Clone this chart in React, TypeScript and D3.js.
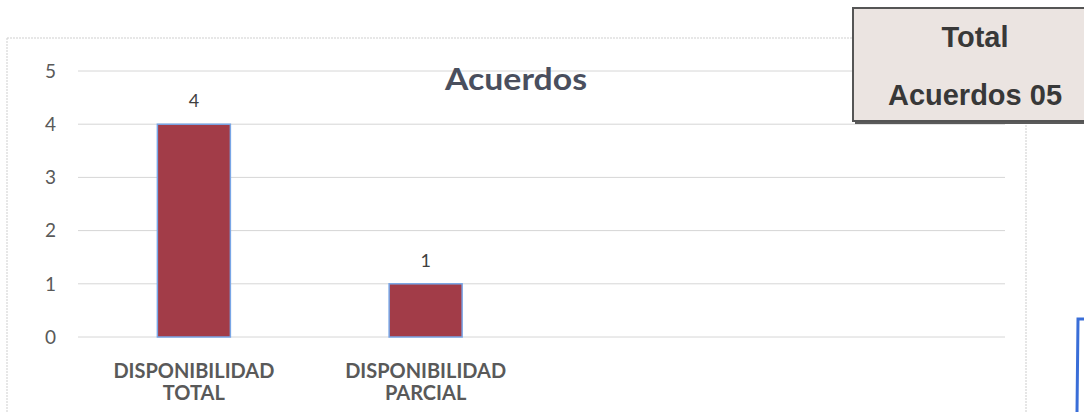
import React from "react";
import * as d3 from "d3";

const categories = ["DISPONIBILIDAD|TOTAL", "DISPONIBILIDAD|PARCIAL", "", " "];
const values: (number | null)[] = [4, 1, null, null];
const yTicks = [0, 1, 2, 3, 4, 5];
const chartTitle = "Acuerdos";
const boxLines = ["Total", "Acuerdos 05"];

const W = 1084;
const H = 412;

export default function App() {
  const x = d3.scaleBand<string>().domain(categories).range([78, 1005]);
  const y = d3.scaleLinear().domain([0, 5]).range([337, 71]);
  const barW = x.bandwidth() * 0.315;
  const font = "Lato, 'Open Sans', sans-serif";
  const mid = (c: string) => (x(c) as number) + x.bandwidth() / 2;

  return (
    <svg
      width={W}
      height={H}
      style={{ position: "absolute", left: 0, top: 0, background: "#fff" }}
      fontFamily={font}
    >
      {/* chart frame */}
      <line x1={7} x2={1026} y1={38} y2={38} stroke="#cfcfcf" strokeDasharray="2 1" />
      <line x1={7} x2={7} y1={38} y2={H} stroke="#cfcfcf" strokeDasharray="2 1" />
      <line x1={1026} x2={1026} y1={38} y2={H} stroke="#cdcdcd" strokeDasharray="2 1" />

      {/* grid + y ticks */}
      {yTicks.map((t) => (
        <g key={t}>
          <line x1={78} x2={1005} y1={y(t)} y2={y(t)} stroke="#d6d6d6" strokeWidth={1} />
          <text x={56} y={y(t)} dy="0.36em" textAnchor="end" fontSize={19} fill="#595959">
            {t}
          </text>
        </g>
      ))}

      {/* bars */}
      {categories.map((c, i) => {
        const v = values[i];
        if (v == null) return null;
        const cx = mid(c);
        return (
          <g key={c}>
            <rect
              x={cx - barW / 2}
              y={y(v)}
              width={barW}
              height={y(0) - y(v)}
              fill="#a23c48"
              stroke="#79a6e6"
              strokeWidth={1.5}
            />
            <text x={cx} y={y(v) - 17} textAnchor="middle" fontSize={18} fill="#404040">
              {v}
            </text>
          </g>
        );
      })}

      {/* category labels */}
      {categories.map((c) => {
        if (!c.trim()) return null;
        const cx = mid(c);
        const parts = c.split("|");
        return (
          <g key={c} fontSize={20} fontWeight="bold" fill="#595959">
            {parts.map((p, j) => (
              <text
                key={j}
                x={cx}
                y={378 + j * 22}
                textAnchor="middle"
                textLength={j === 0 ? 161 : undefined}
                lengthAdjust="spacingAndGlyphs"
              >
                {p}
              </text>
            ))}
          </g>
        );
      })}

      {/* title */}
      <text
        x={516}
        y={90}
        textAnchor="middle"
        fontSize={30}
        fontWeight="bold"
        fill="#4a4f5e"
        textLength={142}
        lengthAdjust="spacingAndGlyphs"
      >
        {chartTitle}
      </text>

      {/* total box */}
      <rect x={855} y={11} width={240} height={113} fill="#5a5a5a" />
      <rect x={853} y={8} width={240} height={113} fill="#ebe4e1" stroke="#555" strokeWidth={2} />
      {boxLines.map((l, j) => (
        <text
          key={l}
          x={975}
          y={47 + j * 58}
          textAnchor="middle"
          fontSize={29}
          fontWeight="bold"
          fill="#383838"
          fontFamily="'Liberation Sans', Arial, sans-serif"
        >
          {l}
        </text>
      ))}

      {/* blue pen bracket */}
      <path d="M1084,319 L1078,319 L1077,412" fill="none" stroke="#3a6ed8" strokeWidth={3} />
    </svg>
  );
}
